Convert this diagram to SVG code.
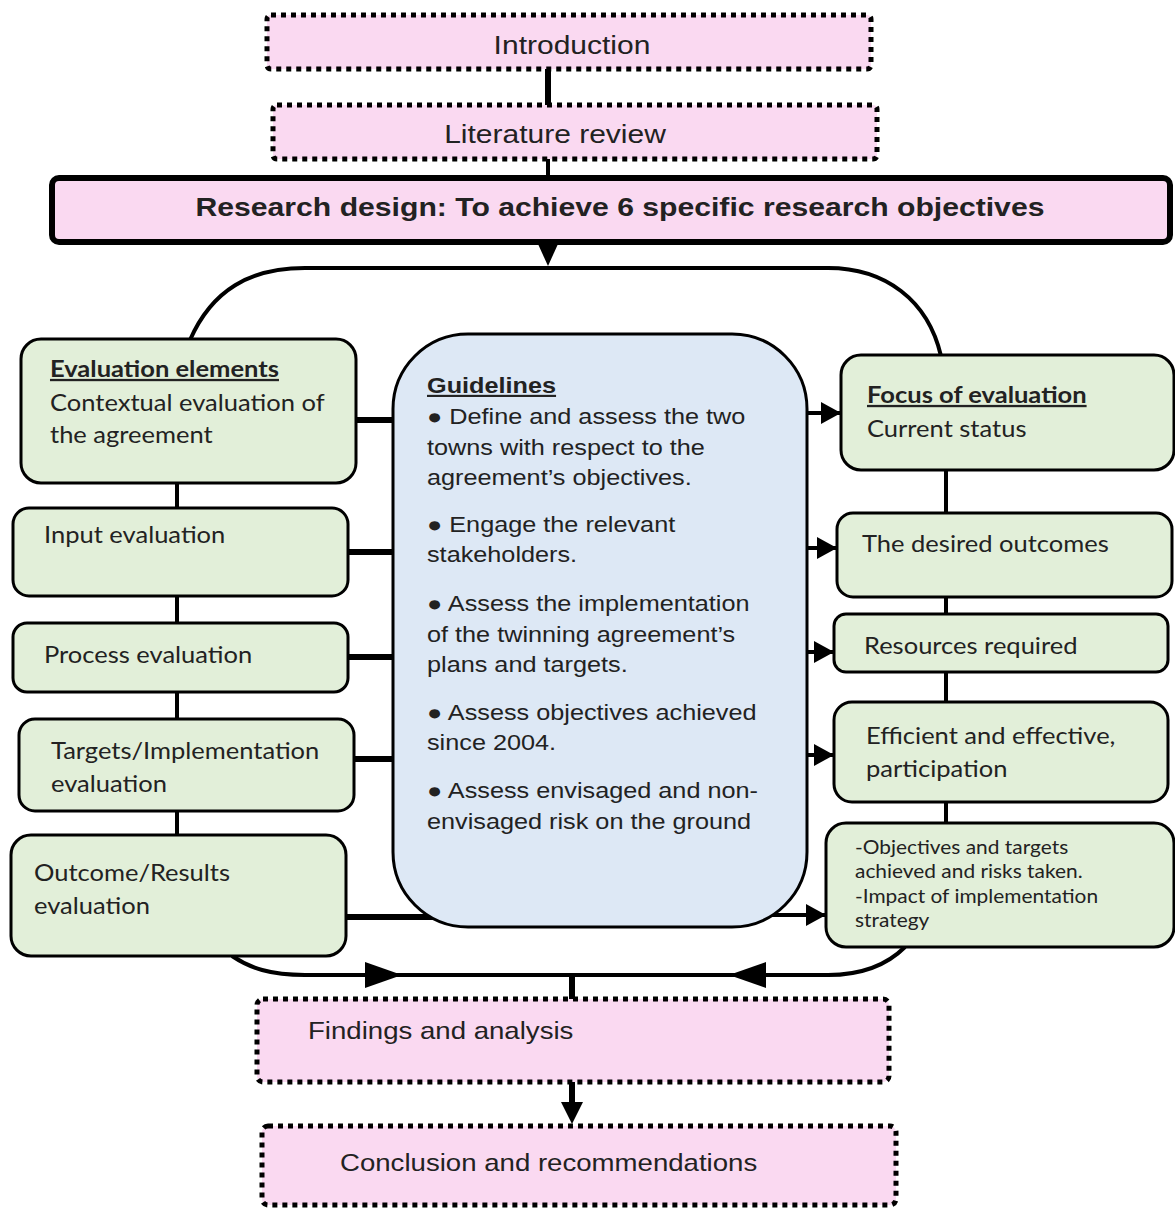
<svg xmlns="http://www.w3.org/2000/svg" width="1175" height="1209" viewBox="0 0 1175 1209">
<defs>
<style>
.pink{fill:#fad9f1;stroke:#000;stroke-width:5;stroke-dasharray:5 5}
.green{fill:#e2efd9;stroke:#000;stroke-width:3}
.blue{fill:#dde8f5;stroke:#000;stroke-width:3}
.ln{stroke:#000;stroke-width:4;fill:none}
.thk{stroke:#000;stroke-width:6;fill:none}
.ar{font-family:"Liberation Sans",Arial,sans-serif;fill:#222}
.cal{font-family:Lato,"Open Sans",sans-serif;fill:#222}
.b{font-weight:bold;text-decoration:underline}
</style>
<marker id="ah" markerUnits="userSpaceOnUse" markerWidth="20" markerHeight="22" refX="20" refY="11" orient="auto">
<path d="M0,0 L20,11 L0,22 Z" fill="#000"/>
</marker>
</defs>
<rect width="1175" height="1209" fill="#fff"/>
<g id="connectors">
<path class="ln" stroke-width="3.5" d="M190 340 C212 290 250 268 305 268 H828 C885 268 928 300 941 356"/>
<path class="ln" stroke-width="3.5" d="M232 956 C250 968 270 975 305 975 H828 C862 975 888 964 905 947"/>
<line class="thk" x1="548" y1="68" x2="548" y2="106"/>
<line class="ln" x1="548" y1="158" x2="548" y2="178"/>
<path d="M538 244 L558 244 L548 266 Z" fill="#000"/>
<line class="ln" x1="177" y1="482" x2="177" y2="509"/>
<line class="ln" x1="177" y1="595" x2="177" y2="624"/>
<line class="ln" x1="177" y1="691" x2="177" y2="720"/>
<line class="ln" x1="177" y1="810" x2="177" y2="836"/>
<line class="ln" x1="946" y1="469" x2="946" y2="514"/>
<line class="ln" x1="946" y1="596" x2="946" y2="615"/>
<line class="ln" x1="946" y1="671" x2="946" y2="703"/>
<line class="ln" x1="946" y1="801" x2="946" y2="824"/>
<line class="thk" x1="355" y1="420" x2="394" y2="420"/>
<line class="thk" x1="347" y1="552" x2="394" y2="552"/>
<line class="thk" x1="347" y1="657" x2="394" y2="657"/>
<line class="thk" x1="353" y1="759" x2="394" y2="759"/>
<line class="thk" x1="345" y1="917" x2="440" y2="917"/>
<line class="ln" x1="806" y1="413" x2="841" y2="413" marker-end="url(#ah)"/>
<line class="ln" x1="806" y1="548" x2="837" y2="548" marker-end="url(#ah)"/>
<line class="ln" x1="806" y1="652" x2="834" y2="652" marker-end="url(#ah)"/>
<line class="ln" x1="806" y1="755" x2="834" y2="755" marker-end="url(#ah)"/>
<line class="ln" x1="770" y1="915" x2="826" y2="915" marker-end="url(#ah)"/>
<path d="M365 962 L402 975 L365 988 Z" fill="#000"/>
<path d="M766 962 L729 975 L766 988 Z" fill="#000"/>
<line class="thk" x1="572" y1="975" x2="572" y2="1000"/>
<line class="thk" x1="572" y1="1082" x2="572" y2="1106"/>
<path d="M561 1102 L583 1102 L572 1124 Z" fill="#000"/>
</g>
<g id="introduction">
<rect class="pink" x="267" y="15" width="604" height="54" rx="4"/>
<text class="ar" x="572" y="54" font-size="25" text-anchor="middle" transform="translate(572 0) scale(1.2 1) translate(-572 0)">Introduction</text>
</g>
<g id="literature">
<rect class="pink" x="273" y="105" width="604" height="54" rx="4"/>
<text class="ar" x="555" y="143" font-size="25" text-anchor="middle" transform="translate(555 0) scale(1.2 1) translate(-555 0)">Literature review</text>
</g>
<g id="research-design">
<rect x="52" y="178" width="1118" height="64" rx="7" fill="#fad9f1" stroke="#000" stroke-width="6"/>
<text class="ar" x="620" y="216" font-size="26" font-weight="bold" text-anchor="middle" fill="#111" transform="translate(620 0) scale(1.16 1) translate(-620 0)">Research design: To achieve 6 specific research objectives</text>
</g>
<g id="evaluation-elements">
<rect class="green" x="21" y="339" width="335" height="144" rx="20"/>
<text class="cal" x="50" y="377" font-size="23" transform="translate(50 0) scale(1.11 1) translate(-50 0)"><tspan class="b">Evaluation elements</tspan><tspan x="50" y="411">Contextual evaluation of</tspan><tspan x="50" y="443">the agreement</tspan></text>
</g>
<g id="input-evaluation">
<rect class="green" x="13" y="508" width="335" height="88" rx="16"/>
<text class="cal" x="44" y="543" font-size="23" transform="translate(44 0) scale(1.11 1) translate(-44 0)">Input evaluation</text>
</g>
<g id="process-evaluation">
<rect class="green" x="13" y="623" width="335" height="69" rx="14"/>
<text class="cal" x="44" y="663" font-size="23" transform="translate(44 0) scale(1.11 1) translate(-44 0)">Process evaluation</text>
</g>
<g id="targets-evaluation">
<rect class="green" x="19" y="719" width="335" height="92" rx="16"/>
<text class="cal" x="51" y="759" font-size="23" transform="translate(51 0) scale(1.11 1) translate(-51 0)">Targets/Implementation<tspan x="51" y="792">evaluation</tspan></text>
</g>
<g id="outcome-evaluation">
<rect class="green" x="11" y="835" width="335" height="121" rx="20"/>
<text class="cal" x="34" y="881" font-size="23" transform="translate(34 0) scale(1.11 1) translate(-34 0)">Outcome/Results<tspan x="34" y="914">evaluation</tspan></text>
</g>
<g id="guidelines">
<rect class="blue" x="393" y="334" width="414" height="593" rx="75"/>
<text class="ar" x="427" y="393" font-size="21.5" transform="translate(427 0) scale(1.175 1) translate(-427 0)"><tspan class="b">Guidelines</tspan>
<tspan x="427" y="424">● Define and assess the two</tspan>
<tspan x="427" y="455">towns with respect to the</tspan>
<tspan x="427" y="485">agreement’s objectives.</tspan>
<tspan x="427" y="532">● Engage the relevant</tspan>
<tspan x="427" y="562">stakeholders.</tspan>
<tspan x="427" y="611">● Assess the implementation</tspan>
<tspan x="427" y="642">of the twinning agreement’s</tspan>
<tspan x="427" y="672">plans and targets.</tspan>
<tspan x="427" y="720">● Assess objectives achieved</tspan>
<tspan x="427" y="750">since 2004.</tspan>
<tspan x="427" y="798">● Assess envisaged and non-</tspan>
<tspan x="427" y="829">envisaged risk on the ground</tspan></text>
</g>
<g id="focus-of-evaluation">
<rect class="green" x="841" y="355" width="333" height="115" rx="20"/>
<text class="cal" x="867" y="403" font-size="23" transform="translate(867 0) scale(1.11 1) translate(-867 0)"><tspan class="b">Focus of evaluation</tspan><tspan x="867" y="437">Current status</tspan></text>
</g>
<g id="desired-outcomes">
<rect class="green" x="837" y="513" width="335" height="84" rx="16"/>
<text class="cal" x="862" y="552" font-size="23" transform="translate(862 0) scale(1.11 1) translate(-862 0)">The desired outcomes</text>
</g>
<g id="resources-required">
<rect class="green" x="834" y="614" width="334" height="58" rx="12"/>
<text class="cal" x="864" y="654" font-size="23" transform="translate(864 0) scale(1.11 1) translate(-864 0)">Resources required</text>
</g>
<g id="efficient-participation">
<rect class="green" x="834" y="702" width="334" height="100" rx="18"/>
<text class="cal" x="866" y="744" font-size="23" transform="translate(866 0) scale(1.11 1) translate(-866 0)">Efficient and effective,<tspan x="866" y="777">participation</tspan></text>
</g>
<g id="objectives-impact">
<rect class="green" x="826" y="823" width="348" height="124" rx="20"/>
<text class="cal" x="855" y="854" font-size="18.5" transform="translate(855 0) scale(1.13 1) translate(-855 0)">-Objectives and targets<tspan x="855" y="878">achieved and risks taken.</tspan><tspan x="855" y="903">-Impact of implementation</tspan><tspan x="855" y="927">strategy</tspan></text>
</g>
<g id="findings">
<rect class="pink" x="257" y="999" width="632" height="83" rx="6"/>
<text class="ar" x="308" y="1039" font-size="24" transform="translate(308 0) scale(1.15 1) translate(-308 0)">Findings and analysis</text>
</g>
<g id="conclusion">
<rect class="pink" x="262" y="1126" width="634" height="79" rx="6"/>
<text class="ar" x="340" y="1171" font-size="24" transform="translate(340 0) scale(1.15 1) translate(-340 0)">Conclusion and recommendations</text>
</g>
</svg>
